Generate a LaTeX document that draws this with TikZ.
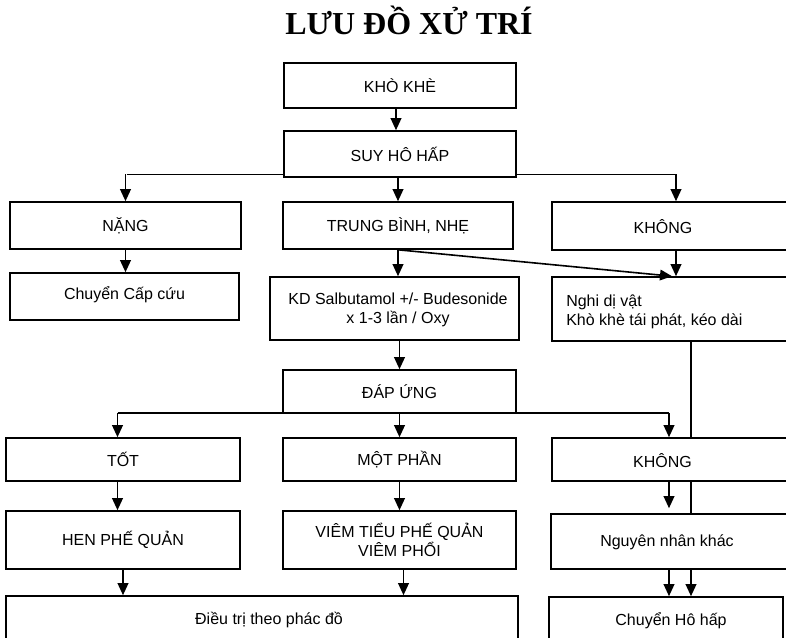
\documentclass[tikz,border=0pt]{standalone}
\usepackage{fontspec}
\setmainfont{Liberation Serif}
\newfontfamily\arial{Liberation Sans}
\usetikzlibrary{arrows.meta,fit,calc,backgrounds}
\begin{document}
\begin{tikzpicture}[x=0.75pt,y=-0.75pt,
  box/.style={draw, fill=white, line width=1.2pt, inner sep=0pt},
  txt/.style={inner sep=0pt, align=center, font=\arial\fontsize{12}{14}\selectfont},
  arr/.style={line width=1.2pt, -{Triangle[length=9pt,width=8pt]}},
  link/.style={line width=1.2pt}]
\useasboundingbox (0,0) rectangle (786,638);

% title
\node[font=\bfseries\fontsize{24}{28}\selectfont, anchor=base, inner sep=0pt] (title) at (409,35) {LƯU ĐỒ XỬ TRÍ};

% first level
\node[box, fit={(284,63) (516,108)}] (A) {};
\node[txt] (At) at (A.center) {KHÒ KHÈ};
\node[box, fit={(284,131) (516,177)}] (B) {};
\node[txt] (Bt) at (B.center) {SUY HÔ HẤP};

% severity row
\node[box, fit={(10,202) (241,249)}] (C) {};
\node[txt] (Ct) at (C.center) {NẶNG};
\node[box, fit={(283,202) (513,249)}] (D) {};
\node[txt] (Dt) at (D.center) {TRUNG BÌNH, NHẸ};
\node[box, fit={(552,202) (800,250)}] (E) {};
\node[txt] (Et) at (663,227) {KHÔNG};

% actions
\node[box, fit={(10,273) (239,320)}] (F) {};
\node[txt] (Ft) at (124.5,295) {Chuyển Cấp cứu};
\node[box, fit={(270,277) (519,340)}] (G) {};
\node[txt] (Gt) at (398,310) {KD Salbutamol +/- Budesonide\\x 1-3 lần / Oxy};
\node[box, fit={(552,277) (800,341)}] (H) {};
\node[txt, align=left, anchor=west] (Ht) at (566,312) {Nghi dị vật\\Khò khè tái phát, kéo dài};

% response
\node[box, fit={(283,370) (516,413)}] (I) {};
\node[txt] (It) at (I.center) {ĐÁP ỨNG};
\node[box, fit={(6,438) (240,481)}] (J) {};
\node[txt] (Jt) at (J.center) {TỐT};
\node[box, fit={(283,438) (516,481)}] (K) {};
\node[txt] (Kt) at (K.center) {MỘT PHẦN};
\node[box, fit={(552,438) (800,481)}] (L) {};
\node[txt] (Lt) at (662.5,461) {KHÔNG};

% diagnosis
\node[box, fit={(6,511) (240,569)}] (M) {};
\node[txt] (Mt) at (M.center) {HEN PHẾ QUẢN};
\node[box, fit={(283,511) (516,569)}] (N) {};
\node[txt] (Nt) at (N.center) {VIÊM TIỂU PHẾ QUẢN\\VIÊM PHỔI};
\node[box, fit={(551,514) (800,569)}] (O) {};
\node[txt] (Ot) at (667,542) {Nguyên nhân khác};

% outcome
\node[box, fit={(6,596) (518,650)}] (P) {};
\node[txt] (Pt) at (269,620) {Điều trị theo phác đồ};
\node[box, fit={(549,597) (783,650)}] (Q) {};
\node[txt] (Qt) at (671,621) {Chuyển Hô hấp};

% branching rails
\coordinate (bl) at (126.5,174.5);
\coordinate (dl) at (117.5,413);
\coordinate (dr) at (669,413);

\begin{scope}[on background layer]
  \draw[link] (bl) -- (E.north |- bl);
  \draw[link] (dl) -- (dr);
  \draw[arr] ([xshift=11.25pt]H.south) -- ([xshift=11.25pt]H.south |- Q.north);
\end{scope}

\draw[arr] ([xshift=-3pt]A.south) -- ([xshift=-3pt]A.south |- B.north);
\draw[arr] (C.north |- bl) -- (C.north);
\draw[arr] (D.north |- B.south) -- (D.north);
\draw[arr] (E.north |- bl) -- (E.north);

\draw[arr] (C.south) -- (C.south |- F.north);
\draw[arr] (D.south) -- (D.south |- G.north);
\draw[arr] (D.south) -- ([xshift=-3pt]H.north);
\draw[arr] (E.south) -- (H.north);

\draw[arr] (I.north |- G.south) -- (I.north);
\draw[arr] (dl) -- (dl |- J.north);
\draw[arr] (I.south) -- (K.north);
\draw[arr] (dr) -- (dr |- L.north);

\draw[arr] (dl |- J.south) -- (dl |- M.north);
\draw[arr] (K.south) -- (N.north);
\draw[arr] (dr |- L.south) -- ($(dr |- O.north)+(0,-5)$);

\draw[arr] (M.south) -- (M.south |- P.north);
\draw[arr] ([xshift=3pt]N.south) -- ([xshift=3pt]N.south |- P.north);
\draw[arr] (dr |- O.south) -- (dr |- Q.north);
\end{tikzpicture}
\end{document}
